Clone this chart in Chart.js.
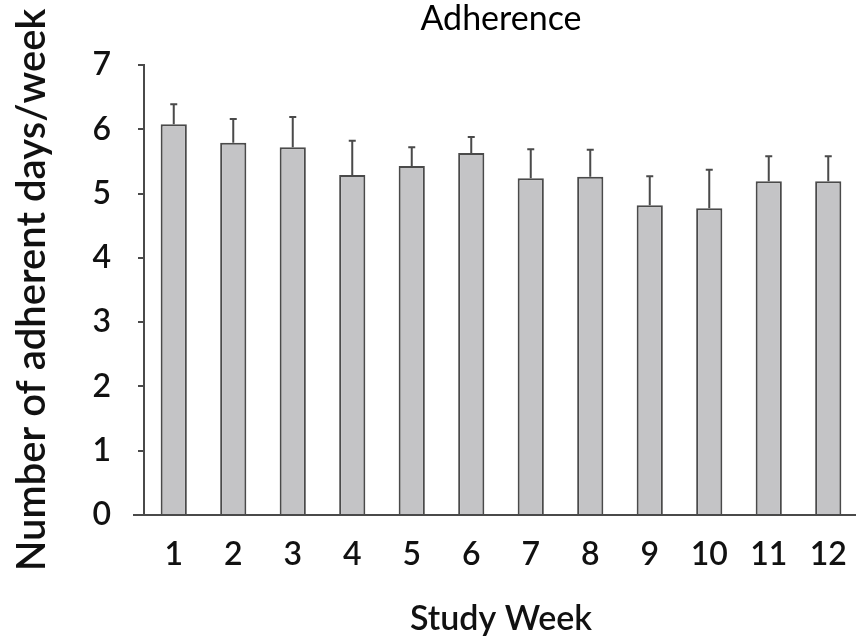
<!DOCTYPE html>
<html>
<head>
<meta charset="utf-8">
<script src="https://cdn.jsdelivr.net/npm/chart.js@4"></script>
<style>
  html, body { margin: 0; padding: 0; background: #fff; }
  #wrap { width: 861px; height: 638px; }
</style>
</head>
<body>
<div id="wrap"><canvas id="grafico" width="861" height="638"></canvas></div>
<script>
// dados
const semanas = ['1', '2', '3', '4', '5', '6', '7', '8', '9', '10', '11', '12'];
const medias = [6.08, 5.79, 5.72, 5.29, 5.43, 5.63, 5.24, 5.26, 4.82, 4.77, 5.19, 5.19];
const erros = [0.31, 0.37, 0.47, 0.53, 0.29, 0.25, 0.45, 0.42, 0.45, 0.60, 0.39, 0.39];
const ticksY = [0, 1, 2, 3, 4, 5, 6, 7];

const corLinha = '#4a4a4a';

// barras de erro (só para cima) + eixo x que passa um pouco do eixo y
const pluginErros = {
    id: 'barrasErro',
    afterDatasetsDraw(chart) {
        const ctx = chart.ctx;
        const y = chart.scales.y;
        const area = chart.chartArea;
        const barras = chart.getDatasetMeta(0).data;
        ctx.save();
        ctx.strokeStyle = corLinha;
        ctx.lineWidth = 2;
        barras.forEach((bar, i) => {
            const topo = y.getPixelForValue(medias[i]);
            const fim = y.getPixelForValue(medias[i] + erros[i]);
            ctx.beginPath();
            ctx.moveTo(bar.x, topo);
            ctx.lineTo(bar.x, fim);
            ctx.moveTo(bar.x - 3.5, fim);
            ctx.lineTo(bar.x + 3.5, fim);
            ctx.stroke();
        });
        const y0 = y.getPixelForValue(0);
        ctx.beginPath();
        ctx.moveTo(area.left - 11, y0);
        ctx.lineTo(area.right - 2, y0);
        ctx.stroke();
        ctx.restore();
    }
};

const ctx = document.getElementById('grafico').getContext('2d');
new Chart(ctx, {
    type: 'bar',
    data: {
        labels: semanas,
        datasets: [{
            data: medias,
            backgroundColor: '#c4c4c6',
            borderColor: corLinha,
            borderWidth: 2,
            categoryPercentage: 1,
            barPercentage: 0.44
        }]
    },
    options: {
        responsive: false,
        animation: false,
        layout: { padding: { left: 0, right: 3, top: 0, bottom: 0 } },
        plugins: {
            legend: { display: false },
            tooltip: { enabled: false },
            title: {
                display: true,
                fullSize: false,
                text: 'Adherence',
                color: '#000',
                font: { family: 'Lato', size: 34, weight: 'normal', lineHeight: 1 },
                padding: { top: 2, bottom: 29 }
            }
        },
        scales: {
            x: {
                grid: { display: false },
                border: { display: false },
                ticks: {
                    color: '#111',
                    padding: 12,
                    font: { family: 'Lato', size: 32, weight: '600', lineHeight: 1.2 },
                    maxRotation: 0
                },
                title: {
                    display: true,
                    text: 'Study Week',
                    color: '#111',
                    font: { family: 'Lato', size: 34, weight: '600', lineHeight: 1 },
                    padding: { top: 0, bottom: 2 }
                },
                afterFit(scale) { scale.height = 123; }
            },
            y: {
                min: ticksY[0],
                max: ticksY[ticksY.length - 1],
                grid: {
                    drawOnChartArea: false,
                    drawTicks: true,
                    tickLength: 6,
                    color: corLinha,
                    lineWidth: 2
                },
                border: { display: true, color: corLinha, width: 2 },
                ticks: {
                    stepSize: 1,
                    color: '#111',
                    padding: 27,
                    font: { family: 'Lato', size: 32, weight: '600', lineHeight: 1.2 }
                },
                title: {
                    display: true,
                    text: 'Number of adherent days/week',
                    color: '#111',
                    font: { family: 'Lato', size: 40, weight: '600', lineHeight: 1 },
                    padding: { top: 12, bottom: 0 }
                },
                afterFit(scale) { scale.width = 144; }
            }
        }
    },
    plugins: [pluginErros]
});
</script>
</body>
</html>
